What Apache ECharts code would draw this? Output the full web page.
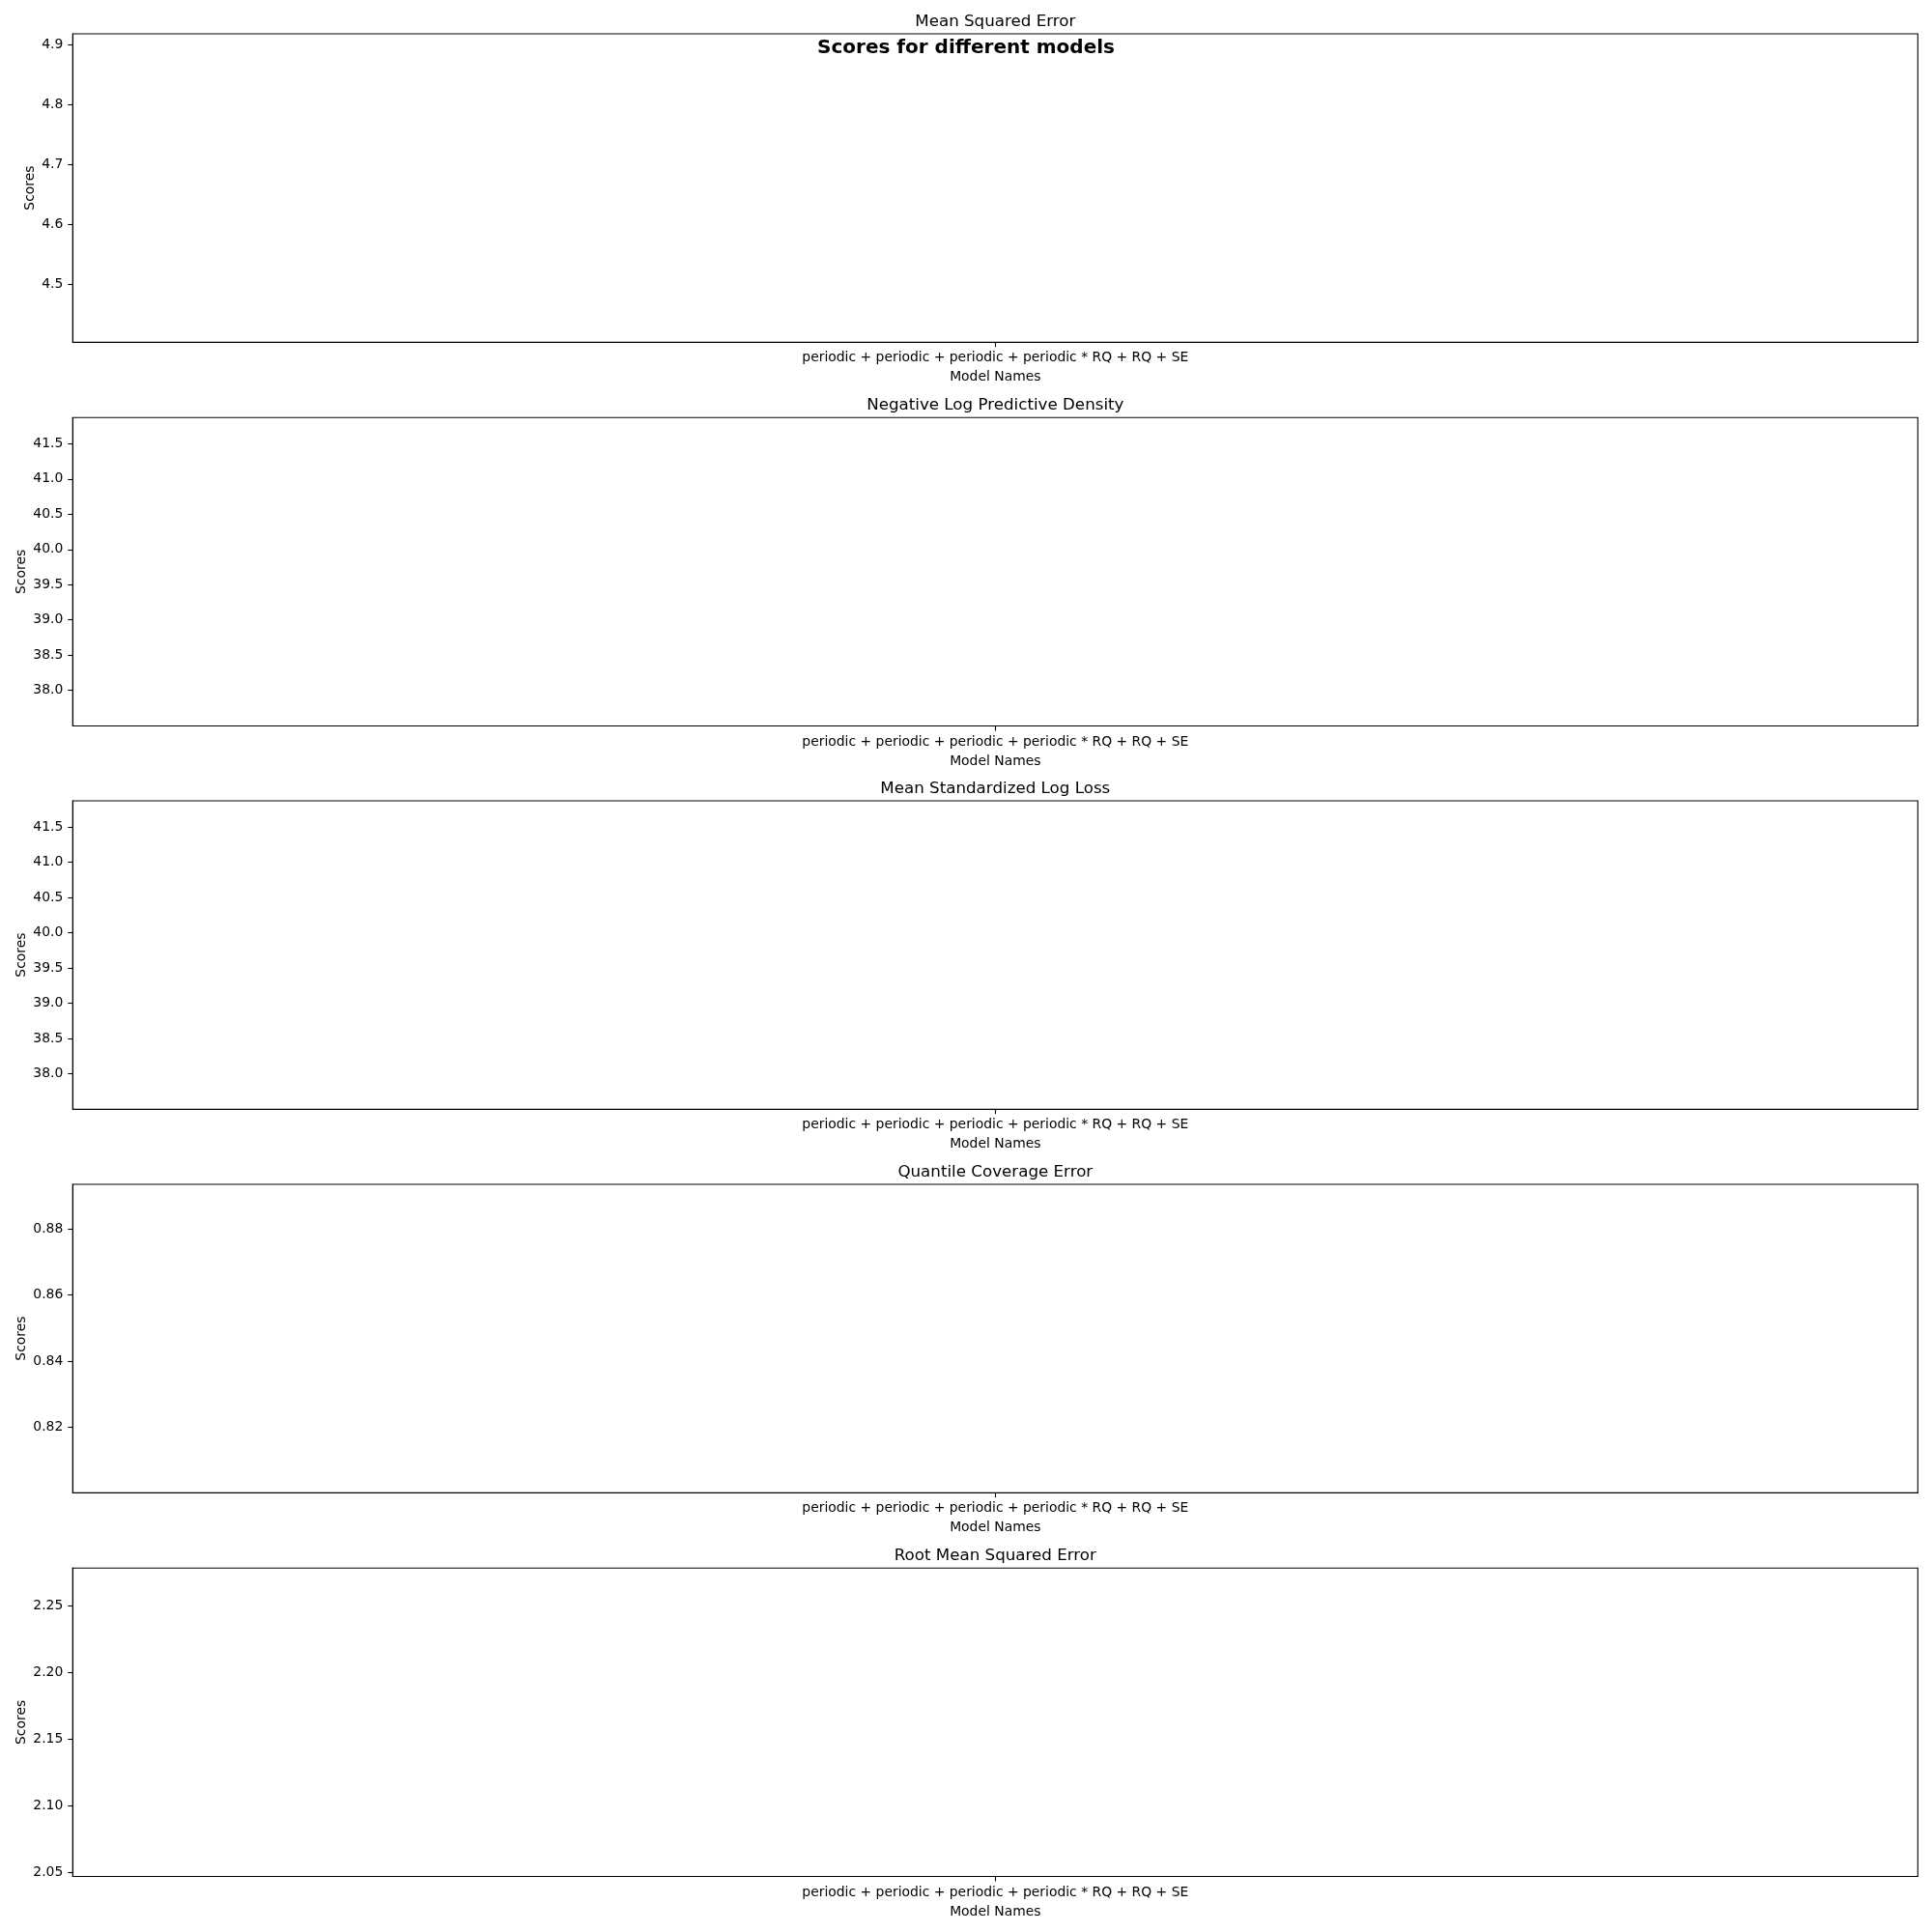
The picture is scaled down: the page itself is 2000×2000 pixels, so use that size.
<!DOCTYPE html>
<html>
<head>
<meta charset="utf-8">
<script src="https://cdn.jsdelivr.net/npm/echarts@6/dist/echarts.min.js"></script>
<style>
  html, body { margin: 0; padding: 0; background: #fff; }
  #chart { width: 2000px; height: 2000px; }
</style>
</head>
<body>
<div id="chart"></div>
<script>
// ---- Data ----
const suptitle = 'Scores for different models';
const models = ['periodic + periodic + periodic + periodic * RQ + RQ + SE'];
const metricNames = ['Mean Squared Error', 'Negative Log Predictive Density', 'Mean Standardized Log Loss', 'Quantile Coverage Error', 'Root Mean Squared Error'];
const mseValues = [4.66];
const nlpdValues = [39.68];
const msllValues = [39.68];
const qceValues = [0.847];
const rmseValues = [2.162];
const yMins = [4.4037, 37.496, 37.496, 0.8001, 2.0467];
const yMaxs = [4.918, 41.87, 41.87, 0.8936, 2.278];
const mseTicks = [4.5, 4.6, 4.7, 4.8, 4.9];
const nlpdTicks = [38.0, 38.5, 39.0, 39.5, 40.0, 40.5, 41.0, 41.5];
const msllTicks = [38.0, 38.5, 39.0, 39.5, 40.0, 40.5, 41.0, 41.5];
const qceTicks = [0.82, 0.84, 0.86, 0.88];
const rmseTicks = [2.05, 2.10, 2.15, 2.20, 2.25];
const tickDecimals = [1, 1, 1, 2, 2];
const xLabel = 'Model Names';
const yLabel = 'Scores';

const seriesValues = [mseValues, nlpdValues, msllValues, qceValues, rmseValues];
const tickSets = [mseTicks, nlpdTicks, msllTicks, qceTicks, rmseTicks];

// ---- Layout ----
const FONT = 'DejaVu Sans';
const gridLeft = 75.3, gridRight = 1985.3;
const gridTops = [35, 432.3, 829, 1226, 1623.3];
const gridH = 319.2;
const nameGaps = [37, 45.5, 45.5, 45.5, 45.5];

const grids = [], xAxes = [], yAxes = [], series = [], graphics = [];
for (let i = 0; i < 5; i++) {
  grids.push({
    left: gridLeft, width: gridRight - gridLeft, top: gridTops[i], height: gridH,
    show: true, borderColor: '#000', borderWidth: 1.1, backgroundColor: 'transparent',
    containLabel: false
  });
  xAxes.push({
    type: 'category', gridIndex: i, data: models, boundaryGap: true,
    axisLine: { show: true, lineStyle: { color: '#000', width: 1.1 } },
    axisTick: { show: true, alignWithLabel: true, length: 5, lineStyle: { color: '#000', width: 1.1 } },
    axisLabel: { color: '#000', fontFamily: FONT, fontSize: 13.9, margin: 9.5 },
    splitLine: { show: false },
    name: xLabel, nameLocation: 'middle', nameGap: 29.5, nameMoveOverlap: false,
    nameTextStyle: { color: '#000', fontFamily: FONT, fontSize: 13.9 }
  });
  const dec = tickDecimals[i];
  yAxes.push({
    type: 'value', gridIndex: i, min: yMins[i], max: yMaxs[i],
    axisLine: { show: true, lineStyle: { color: '#000', width: 1.1 } },
    axisTick: { show: true, length: 5, customValues: tickSets[i], lineStyle: { color: '#000', width: 1.1 } },
    axisLabel: { color: '#000', fontFamily: FONT, fontSize: 13.9, margin: 10,
      customValues: tickSets[i], formatter: v => Number(v).toFixed(dec) },
    splitLine: { show: false },
    name: yLabel, nameLocation: 'middle', nameGap: nameGaps[i], nameMoveOverlap: false,
    nameTextStyle: { color: '#000', fontFamily: FONT, fontSize: 13.9 }
  });
  series.push({
    type: 'line', xAxisIndex: i, yAxisIndex: i, data: seriesValues[i],
    symbol: 'none', showSymbol: false, lineStyle: { color: '#1f77b4' }, silent: true
  });
  graphics.push({
    type: 'text', x: (gridLeft + gridRight) / 2, y: gridTops[i] - 12.5,
    style: { text: metricNames[i], fill: '#000', font: '16.7px "DejaVu Sans"', textAlign: 'center', textVerticalAlign: 'middle' }
  });
}
graphics.push({
  type: 'text', x: 1000, y: 50, z: 100,
  style: { text: suptitle, fill: '#000', font: 'bold 20px "DejaVu Sans"', textAlign: 'center', textVerticalAlign: 'middle' }
});

const chart = echarts.init(document.getElementById('chart'), null, { renderer: 'canvas' });
chart.setOption({
  animation: false,
  backgroundColor: '#fff',
  textStyle: { fontFamily: FONT },
  grid: grids, xAxis: xAxes, yAxis: yAxes, series: series, graphic: graphics
});
</script>
</body>
</html>
